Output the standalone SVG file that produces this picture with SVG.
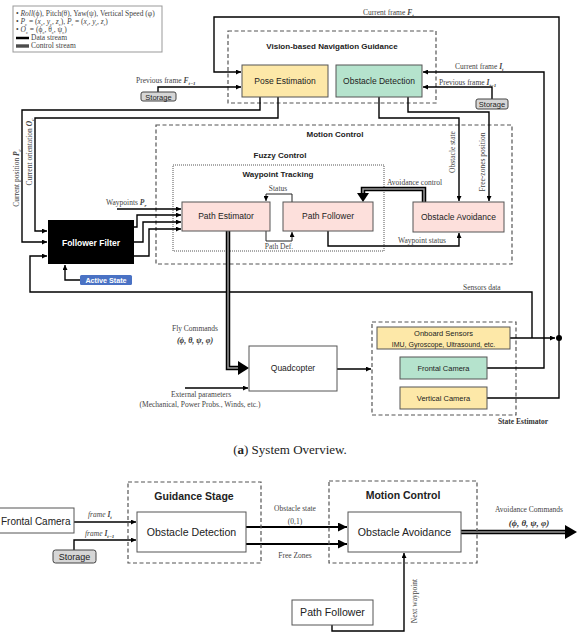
<svg xmlns="http://www.w3.org/2000/svg" width="579" height="639" viewBox="0 0 579 639">
<defs>
<marker id="a" viewBox="0 0 10 10" refX="10" refY="5" markerWidth="5" markerHeight="5" markerUnits="userSpaceOnUse" orient="auto"><path d="M0,0 L10,5 L0,10 z" fill="#000"/></marker>
<marker id="b" viewBox="0 0 10 10" refX="10" refY="5" markerWidth="9" markerHeight="9" markerUnits="userSpaceOnUse" orient="auto"><path d="M0,0 L10,5 L0,10 z" fill="#000"/></marker>
<style>
.box{stroke:#555;stroke-width:1}
.s{font-family:"Liberation Sans",Arial,sans-serif;fill:#222;text-anchor:middle}
.sb{font-family:"Liberation Sans",Arial,sans-serif;font-weight:bold;fill:#222;text-anchor:middle}
.r{font-family:"Liberation Serif","Times New Roman",serif;fill:#444;font-size:7.5px}
.m{font-family:"Liberation Serif","Times New Roman",serif;font-style:italic;font-weight:bold}
.d{fill:none;stroke:#000;stroke-width:1.4}
.dash{fill:none;stroke:#555;stroke-width:1.2;stroke-dasharray:4,2.5}
.ctl{fill:none;stroke:#000;stroke-width:4.5}
.ctli{fill:none;stroke:#999;stroke-width:1.5}
.yel{fill:#fde8a8}
.grn{fill:#b5e3cd}
.sto{fill:#d6d6d6;stroke:#444;stroke-width:1}
</style>
</defs>
<rect width="579" height="639" fill="#fff"/>

<!-- legend -->
<g id="legend">
<rect x="13" y="6" width="149" height="46" fill="#fff" stroke="#999" stroke-width="1"/>
<text class="r" x="16" y="16" font-size="6.2" fill="#222">• <tspan font-style="italic">Roll</tspan>(ϕ), Pitch(θ), Yaw(ψ), Vertical Speed (φ)</text>
<text class="r" x="16" y="24" font-size="6.2" fill="#222">• <tspan font-style="italic">P</tspan><tspan font-size="4.5" dy="1.5">c</tspan><tspan dy="-1.5"> = (</tspan><tspan font-style="italic">x</tspan><tspan font-size="4.5" dy="1.5">c</tspan><tspan dy="-1.5">, </tspan><tspan font-style="italic">y</tspan><tspan font-size="4.5" dy="1.5">c</tspan><tspan dy="-1.5">, </tspan><tspan font-style="italic">z</tspan><tspan font-size="4.5" dy="1.5">c</tspan><tspan dy="-1.5">), </tspan><tspan font-style="italic">P</tspan><tspan font-size="4.5" dy="1.5">r</tspan><tspan dy="-1.5"> = (</tspan><tspan font-style="italic">x</tspan><tspan font-size="4.5" dy="1.5">r</tspan><tspan dy="-1.5">, </tspan><tspan font-style="italic">y</tspan><tspan font-size="4.5" dy="1.5">r</tspan><tspan dy="-1.5">, </tspan><tspan font-style="italic">z</tspan><tspan font-size="4.5" dy="1.5">r</tspan><tspan dy="-1.5">)</tspan></text>
<text class="r" x="16" y="32" font-size="6.2" fill="#222">• <tspan font-style="italic">O</tspan><tspan font-size="4.5" dy="1.5">c</tspan><tspan dy="-1.5"> = (ϕ</tspan><tspan font-size="4.5" dy="1.5">c</tspan><tspan dy="-1.5">, θ</tspan><tspan font-size="4.5" dy="1.5">c</tspan><tspan dy="-1.5">, ψ</tspan><tspan font-size="4.5" dy="1.5">c</tspan><tspan dy="-1.5">)</tspan></text>
<line x1="16" y1="38" x2="29" y2="38" stroke="#000" stroke-width="2.5"/>
<text class="r" x="31" y="40" font-size="6.2" fill="#222">Data stream</text>
<line x1="16" y1="46" x2="29" y2="46" stroke="#000" stroke-width="3"/>
<line x1="16" y1="46" x2="29" y2="46" stroke="#999" stroke-width="1"/>
<text class="r" x="31" y="48" font-size="6.2" fill="#222">Control stream</text>
</g>

<!-- containers -->
<g id="vision-guidance">
<rect x="228" y="31" width="208" height="72" class="dash"/>
<text class="sb" x="332" y="49" font-size="8">Vision-based Navigation Guidance</text>
</g>
<g id="motion-control">
<rect x="156" y="125" width="356" height="139" fill="#fde0dc" class="dash"/>
<text class="sb" x="335" y="137" font-size="8">Motion Control</text>
<text class="sb" x="280" y="158" font-size="8">Fuzzy Control</text>
</g>
<g id="waypoint-tracking">
<rect x="173" y="165" width="211" height="86" fill="none" stroke="#555" stroke-width="1" stroke-dasharray="1,1"/>
<text class="sb" x="278" y="177" font-size="8">Waypoint Tracking</text>
</g>
<g id="state-estimator">
<rect x="372" y="322" width="144" height="93" class="dash" fill="none"/>
<text x="523" y="424" font-family="Liberation Serif,serif" font-weight="bold" font-size="7.5" fill="#333" text-anchor="middle">State Estimator</text>
</g>

<!-- connectors -->
<g id="connectors">
<path class="d" d="M487,398 H559 V17 H214 V72 H241" marker-end="url(#a)"/>
<path class="d" d="M487,368 H544 V72 H423" marker-end="url(#a)"/>
<path class="d" d="M492,99 V87 H423" marker-end="url(#a)"/>
<path class="d" d="M158,92 V87 H241" marker-end="url(#a)"/>
<path class="d" d="M260,97 V110 H22 V242 H47" marker-end="url(#a)"/>
<path class="d" d="M278,97 V118 H35 V231 H47" marker-end="url(#a)"/>
<path class="d" d="M532,338 V292 H30 V256 H47" marker-end="url(#a)"/>
<path class="d" d="M510,338 H555" marker-end="url(#a)"/>
<circle cx="559" cy="338" r="3" fill="#000"/>
<path class="d" d="M80,280 H65 V265" marker-end="url(#a)"/>
<path class="d" d="M117,209 H181" marker-end="url(#a)"/>
<path class="d" d="M134,227 H137 V215 H181" marker-end="url(#a)"/>
<path class="d" d="M134,242 H143 V222 H181" marker-end="url(#a)"/>
<path class="d" d="M134,256 H149 V229 H181" marker-end="url(#a)"/>
<path fill="none" stroke="#222" stroke-width="1" d="M292,202 V194 H266 V201" marker-end="url(#a)"/>
<path fill="none" stroke="#222" stroke-width="1" d="M266,231 V241 H292 V232" marker-end="url(#a)"/>
<path class="ctl" d="M424,202 V189 H363 V193"/>
<path class="ctli" d="M424,202 V189 H363 V193"/>
<path d="M357,193 L369,193 L363,202 z" fill="#000"/>
<path class="d" d="M328,231 V246 H459 V233" marker-end="url(#a)"/>
<path class="d" d="M379,97 V118 H459 V201" marker-end="url(#a)"/>
<path class="d" d="M408,97 V112 H489 V201" marker-end="url(#a)"/>
<path class="ctl" d="M228,231 V368 H240"/>
<path class="ctli" d="M228,231 V368 H240"/>
<path d="M238,361 L249,368 L238,375 z" fill="#000"/>
<path class="d" d="M185,388 H248" marker-end="url(#a)"/>
<path class="d" d="M337,369 H371" marker-end="url(#a)"/>

<path class="d" d="M74,522 H136" marker-end="url(#a)"/>
<path class="d" d="M74,550 V540 H136" marker-end="url(#a)"/>
<path fill="none" stroke="#000" stroke-width="2.2" d="M246,527 H347" marker-end="url(#b)"/>
<path fill="none" stroke="#000" stroke-width="2.2" d="M246,544 H347" marker-end="url(#b)"/>
<path class="ctl" d="M461,532 H565"/>
<path class="ctli" d="M461,532 H565"/>
<path d="M565,525 L577,532 L565,539 z" fill="#000"/>
<path class="d" d="M332,625 V631 H404 V553" marker-end="url(#a)"/>
</g>

<!-- connector labels -->
<g id="labels">
<text class="r" x="363" y="15">Current frame <tspan class="m">F</tspan><tspan class="m" font-size="5" dy="1.5">t</tspan></text>
<text class="r" x="455" y="69">Current frame <tspan class="m">I</tspan><tspan class="m" font-size="5" dy="1.5">t</tspan></text>
<text class="r" x="439" y="85">Previous frame <tspan class="m">I</tspan><tspan class="m" font-size="5" dy="1.5">t−1</tspan></text>
<text class="r" x="136" y="83">Previous frame <tspan class="m">F</tspan><tspan class="m" font-size="5" dy="1.5">t−1</tspan></text>
<text class="r" transform="translate(19,178) rotate(-90)" text-anchor="middle">Current position <tspan class="m">P</tspan><tspan class="m" font-size="5" dy="1.5">c</tspan></text>
<text class="r" transform="translate(32,152) rotate(-90)" text-anchor="middle">Current orientation <tspan class="m">O</tspan><tspan class="m" font-size="5" dy="1.5">c</tspan></text>
<text class="r" x="106" y="205">Waypoints <tspan class="m">P</tspan><tspan class="m" font-size="5" dy="1.5">r</tspan></text>
<text class="r" x="278" y="191" font-size="6" text-anchor="middle">Status</text>
<text class="r" x="279" y="249" font-size="6" text-anchor="middle">Path Def.</text>
<text class="r" x="387" y="185" font-size="7">Avoidance control</text>
<text class="r" x="398" y="243" font-size="7">Waypoint status</text>
<text class="r" transform="translate(455,152) rotate(-90)" text-anchor="middle" font-size="7">Obstacle state</text>
<text class="r" transform="translate(485,162) rotate(-90)" text-anchor="middle" font-size="7">Free-zones position</text>
<text class="r" x="463" y="290">Sensors data</text>
<text class="r" x="195" y="331" text-anchor="middle">Fly Commands</text>
<text class="m" x="195" y="343" text-anchor="middle" font-size="8" fill="#333">(ϕ, θ, ψ, φ)</text>
<text class="r" x="201" y="397" text-anchor="middle" font-size="7">External parameters</text>
<text class="r" x="200" y="407" text-anchor="middle" font-size="7">(Mechanical, Power Probs., Winds, etc.)</text>
<text x="290" y="454" font-family="Liberation Serif,serif" font-size="13" fill="#222" text-anchor="middle">(<tspan font-weight="bold">a</tspan>) System Overview.</text>

<text class="r" x="88" y="517" font-size="7" font-style="italic">frame <tspan class="m">I</tspan><tspan class="m" font-size="5" dy="1.5">t</tspan></text>
<text class="r" x="85" y="536" font-size="7" font-style="italic">frame <tspan class="m">I</tspan><tspan class="m" font-size="5" dy="1.5">t−1</tspan></text>
<text class="r" x="295" y="511" font-size="8.5" text-anchor="middle">Obstacle state</text>
<text class="r" x="295" y="524" font-size="8.5" text-anchor="middle">(0,1)</text>
<text class="r" x="295" y="558" font-size="8.5" text-anchor="middle">Free Zones</text>
<text class="r" x="529" y="512" font-size="8.5" text-anchor="middle">Avoidance Commands</text>
<text class="m" x="529" y="526" font-size="9" fill="#333" text-anchor="middle">(ϕ, θ, ψ, φ)</text>
<text class="r" transform="translate(417,601) rotate(-90)" text-anchor="middle" font-size="8">Next waypoint</text>
</g>

<!-- nodes -->
<g id="pose-estimation"><rect x="242" y="65" width="86" height="32" class="box yel"/><text class="s" x="285" y="84" font-size="8.5">Pose Estimation</text></g>
<g id="obstacle-detection"><rect x="336" y="65" width="86" height="32" class="box grn"/><text class="s" x="379" y="84" font-size="8.5">Obstacle Detection</text></g>
<g id="storage-f"><rect x="141" y="92" width="35" height="9" rx="2" class="sto"/><text class="s" x="158.5" y="99.5" font-size="7.5">Storage</text></g>
<g id="storage-i"><rect x="476" y="99" width="32" height="10" rx="2" class="sto"/><text class="s" x="492" y="107" font-size="7.5">Storage</text></g>
<g id="follower-filter"><rect x="48" y="220" width="86" height="44" fill="#000"/><text x="91" y="246" font-family="Liberation Sans,Arial,sans-serif" font-weight="bold" font-size="8.5" fill="#fff" text-anchor="middle">Follower Filter</text></g>
<g id="active-state"><rect x="80" y="275" width="52" height="10" rx="1.5" fill="#4a72c4"/><text x="106" y="283" font-family="Liberation Sans,Arial,sans-serif" font-weight="bold" font-size="7.2" fill="#fff" text-anchor="middle">Active State</text></g>
<g id="path-estimator"><rect x="182" y="202" width="88" height="29" class="box" fill="#fde0dc"/><text class="s" x="226" y="219" font-size="8.5">Path Estimator</text></g>
<g id="path-follower"><rect x="283" y="202" width="90" height="29" class="box" fill="#fde0dc"/><text class="s" x="328" y="219" font-size="8.5">Path Follower</text></g>
<g id="obstacle-avoidance"><rect x="413" y="202" width="91" height="30" class="box" fill="#fde0dc"/><text class="s" x="458.5" y="220" font-size="8.5">Obstacle Avoidance</text></g>
<g id="quadcopter"><rect x="249" y="346" width="88" height="45" class="box" fill="#fff"/><text class="s" x="293" y="371" font-size="8.5">Quadcopter</text></g>
<g id="onboard-sensors"><rect x="377" y="327" width="133" height="22" class="box yel"/><text class="s" x="443.5" y="336" font-size="7.5">Onboard Sensors</text><text class="s" x="443.5" y="346.5" font-size="7">IMU, Gyroscope, Ultrasound, etc.</text></g>
<g id="frontal-camera"><rect x="400" y="357" width="87" height="22" class="box grn"/><text class="s" x="443.5" y="371" font-size="7.5">Frontal Camera</text></g>
<g id="vertical-camera"><rect x="400" y="387" width="87" height="22" class="box yel"/><text class="s" x="443.5" y="401" font-size="7.5">Vertical Camera</text></g>

<!-- bottom diagram -->
<g id="guidance-stage"><rect x="128" y="482" width="133" height="81" class="dash" fill="none"/><text class="sb" x="194" y="500" font-size="10.5">Guidance Stage</text></g>
<g id="motion-control-b"><rect x="329" y="481" width="148" height="82" class="dash" fill="none"/><text class="sb" x="403" y="499" font-size="10.5">Motion Control</text></g>
<g id="frontal-camera-b"><rect x="-10" y="508" width="84" height="25" class="box" fill="#fff"/><text x="1" y="525" font-family="Liberation Sans,Arial,sans-serif" fill="#222" font-size="10">Frontal Camera</text></g>
<g id="storage-b"><rect x="53" y="550" width="43" height="13" rx="2.5" class="sto"/><text class="s" x="74.5" y="560" font-size="9">Storage</text></g>
<g id="obstacle-detection-b"><rect x="137" y="512" width="109" height="40" class="box" fill="#fff"/><text class="s" x="191.5" y="536" font-size="10.6">Obstacle Detection</text></g>
<g id="obstacle-avoidance-b"><rect x="348" y="512" width="113" height="40" class="box" fill="#fff"/><text class="s" x="404.5" y="536" font-size="10.6">Obstacle Avoidance</text></g>
<g id="path-follower-b"><rect x="292" y="600" width="81" height="25" class="box" fill="#fff"/><text class="s" x="332.5" y="616" font-size="10.6">Path Follower</text></g>
</svg>
